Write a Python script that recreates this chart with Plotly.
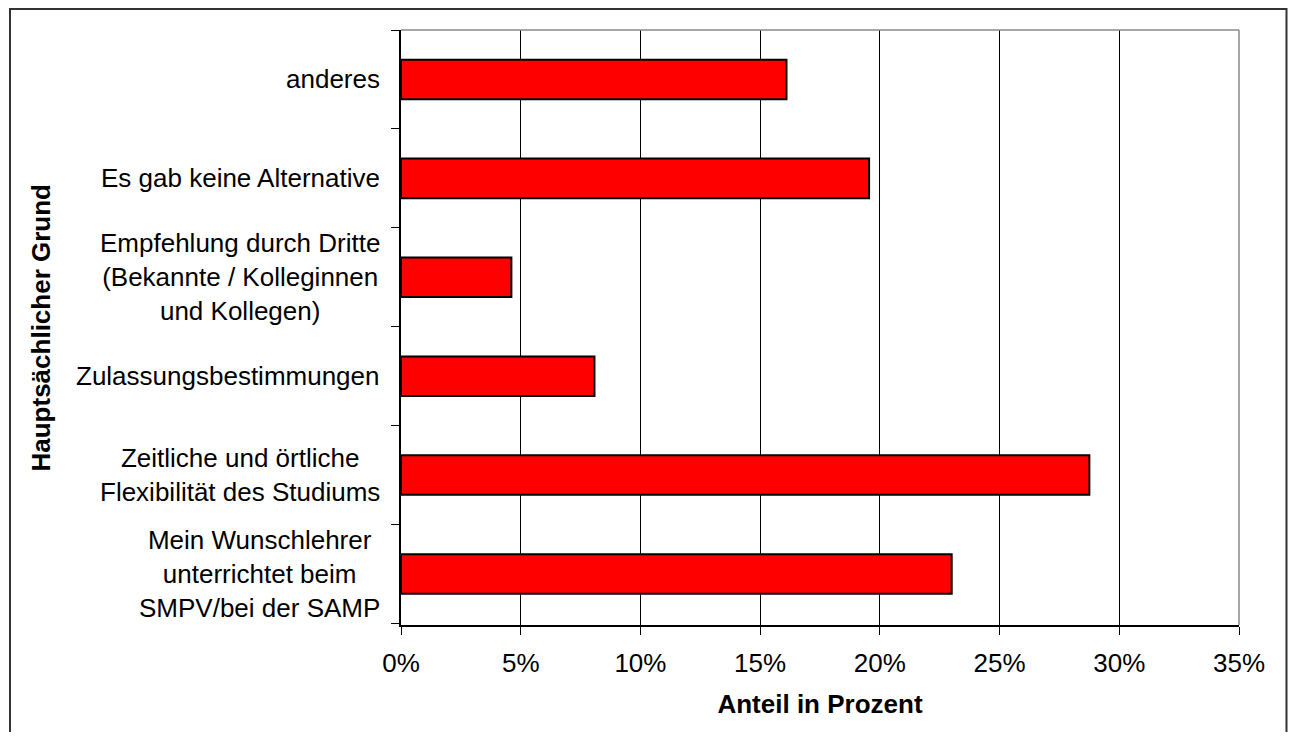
import plotly.graph_objects as go

categories = [
    "Mein Wunschlehrer<br>unterrichtet beim<br>SMPV/bei der SAMP",
    "Zeitliche und örtliche<br>Flexibilität des Studiums",
    "Zulassungsbestimmungen",
    "Empfehlung durch Dritte<br>(Bekannte / Kolleginnen<br>und Kollegen)",
    "Es gab keine Alternative",
    "anderes",
]
values = [23.0, 28.75, 8.08, 4.61, 19.55, 16.1]
x_ticks = [0, 5, 10, 15, 20, 25, 30, 35]
x_title = "Anteil in Prozent"
y_title = "Hauptsächlicher Grund"

FONT = "Liberation Sans, Arial, sans-serif"
FS = 26
OFF = 8  # page body margin
W, H = 1280, 724
L, T = 401 - OFF, 30 - OFF
R = W - (1239 - OFF)
B = H - (625 - OFF)
pw, ph = W - L - R, H - T - B

fig = go.Figure(
    go.Bar(
        x=values,
        y=categories,
        orientation="h",
        width=0.4,
        marker=dict(color="#FF0000", line=dict(color="black", width=2)),
    )
)

fig.update_layout(
    width=W,
    height=H,
    margin=dict(l=L, r=R, t=T, b=B),
    paper_bgcolor="white",
    plot_bgcolor="white",
    showlegend=False,
    font=dict(family=FONT, size=FS, color="black"),
)

fig.update_xaxes(
    range=[0, 35],
    tickvals=x_ticks,
    ticktext=[f"{v}%" for v in x_ticks],
    ticks="outside",
    ticklen=8,
    tickcolor="black",
    ticklabelstandoff=6,
    showgrid=True,
    gridcolor="black",
    gridwidth=1,
    showline=True,
    linecolor="black",
    linewidth=1.5,
    zeroline=False,
    tickfont=dict(size=FS),
    title=dict(text=f"<b>{x_title}</b>", font=dict(size=FS), standoff=18),
)

fig.update_yaxes(
    type="category",
    categoryorder="array",
    categoryarray=categories,
    tickson="boundaries",
    ticks="outside",
    ticklen=8,
    tickcolor="black",
    showticklabels=False,
    showgrid=False,
    showline=True,
    linecolor="black",
    linewidth=1.5,
    zeroline=False,
)

# category labels (centered multi-line)
for c in categories:
    fig.add_annotation(
        x=0, xref="paper", y=c, yref="y",
        text=c, showarrow=False, xanchor="right", yanchor="middle",
        align="center", xshift=-19,
        font=dict(family=FONT, size=FS, color="black"),
    )

# y axis title
fig.add_annotation(
    x=(40 - OFF - L) / pw, xref="paper", y=0.5, yref="paper",
    text=f"<b>{y_title}</b>", textangle=-90, showarrow=False,
    xanchor="center", yanchor="middle",
    font=dict(family=FONT, size=FS, color="black"),
)

# gray top / right plot border
fig.add_shape(type="line", xref="paper", yref="paper", x0=0, x1=1, y0=1, y1=1,
              line=dict(color="#888888", width=1.5), layer="above")
fig.add_shape(type="line", xref="paper", yref="paper", x0=1, x1=1, y0=0, y1=1,
              line=dict(color="#888888", width=1.5), layer="above")

# outer chart border
fig.add_shape(type="rect", xref="paper", yref="paper",
              x0=(10 - OFF - L) / pw, x1=(W - 1.5 - L) / pw,
              y0=(H - B - (760 - OFF)) / ph, y1=(H - B - (9 - OFF)) / ph,
              line=dict(color="#333333", width=2), fillcolor="rgba(0,0,0,0)",
              layer="below")

fig.write_html("out.html")
